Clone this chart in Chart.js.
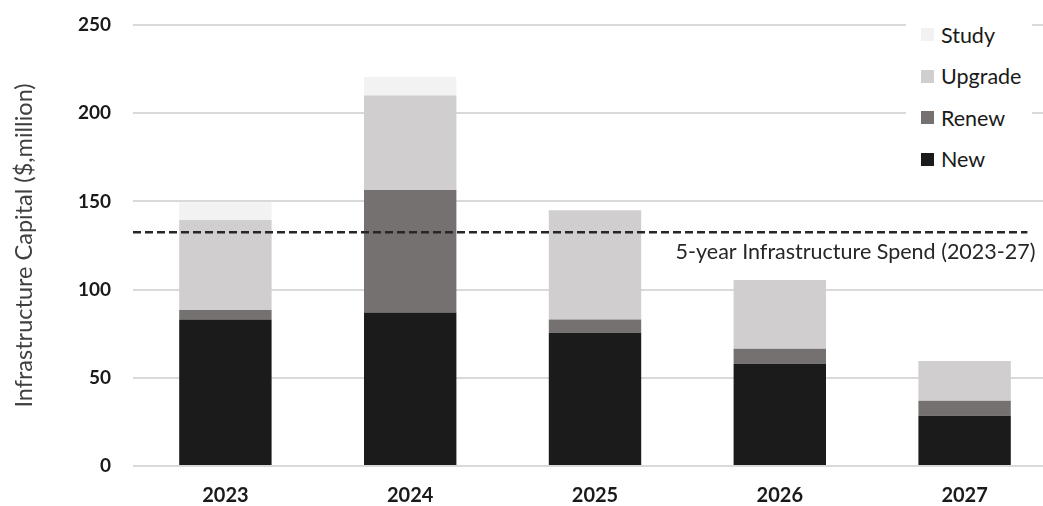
<!DOCTYPE html>
<html>
<head>
<meta charset="utf-8">
<script src="https://cdn.jsdelivr.net/npm/chart.js@4.4.1/dist/chart.umd.min.js"></script>
<style>
  html, body { margin: 0; padding: 0; background: #fff; }
  #wrap { position: relative; width: 1043px; height: 506px; overflow: hidden; }
  #box { position: absolute; left: 0; top: 0; width: 1060px; height: 506px; }
  #legend { position: absolute; left: 906px; top: 14px; width: 126px; height: 166px; background: #fff;
            font-family: Lato, sans-serif; font-size: 21.5px; color: #1a1a1a; }
  #legend div { height: 41.5px; display: flex; align-items: center; }
  #legend span.sw { display: inline-block; width: 13px; height: 13px; margin: 0 7px 0 15px; }
</style>
</head>
<body>
<div id="wrap">
  <div id="box"><canvas id="chart_capital" width="1060" height="506"></canvas></div>
  <div id="legend"></div>
</div>
<script>
const years = ["2023", "2024", "2025", "2026", "2027"];
const newVals = [83, 87, 75.5, 58, 28.5];
const renewVals = [5.5, 69.5, 7.5, 8.5, 8.5];
const upgradeVals = [51, 53.5, 62, 39, 22.5];
const studyVals = [10, 10.5, 0, 0, 0];
const avgSpend = 132.5;
const avgLabel = "5-year Infrastructure Spend (2023-27)";
const yTicks = [0, 50, 100, 150, 200, 250];

const $chart_capital = document.getElementById("chart_capital");

const series = [
    { label: "New", data: newVals, color: "#1b1b1b" },
    { label: "Renew", data: renewVals, color: "#767171" },
    { label: "Upgrade", data: upgradeVals, color: "#d0cece" },
    { label: "Study", data: studyVals, color: "#f2f2f2" },
];

// dashed average line + its caption
const avgLine = {
    id: "avgLine",
    afterDatasetsDraw(chart) {
        const ctx = chart.ctx;
        const y = chart.scales.y.getPixelForValue(avgSpend);
        const x2 = chart.scales.x2;
        const left = x2.getPixelForValue(0);
        const right = x2.getPixelForValue(4.84);
        ctx.save();
        ctx.strokeStyle = "#262626";
        ctx.lineWidth = 2.5;
        ctx.setLineDash([8, 4]);
        ctx.beginPath();
        ctx.moveTo(left, y);
        ctx.lineTo(right, y);
        ctx.stroke();
        ctx.setLineDash([]);
        ctx.fillStyle = "#262626";
        ctx.font = "21.5px Lato";
        ctx.textAlign = "right";
        ctx.textBaseline = "middle";
        ctx.fillText(avgLabel, right + 8, y + 20);
        ctx.restore();
    },
};

new Chart($chart_capital, {
    type: "bar",
    data: {
        labels: years,
        datasets: series.map((s) => ({
            label: s.label,
            data: s.data,
            backgroundColor: s.color,
            borderWidth: 0,
            categoryPercentage: 1,
            barPercentage: 0.5,
        })),
    },
    options: {
        responsive: false,
        animation: false,
        layout: { padding: { top: 25, right: 3, left: 0, bottom: 0 } },
        plugins: {
            legend: { display: false },
            tooltip: { enabled: false },
        },
        scales: {
            x: {
                stacked: true,
                grid: { display: false, drawTicks: false },
                border: { display: false },
                ticks: {
                    color: "#1a1a1a",
                    font: { family: "Lato", size: 20, weight: "bold" },
                    padding: 18,
                },
                afterFit(scale) { scale.height = 40; },
            },
            x2: {
                type: "linear",
                display: false,
                offset: false,
                min: 0,
                max: 5,
            },
            y: {
                stacked: true,
                min: 0,
                max: 250,
                afterBuildTicks(scale) { scale.ticks = yTicks.map((v) => ({ value: v })); },
                grid: { color: "#d9d9d9", lineWidth: 2, drawTicks: false },
                border: { display: false },
                ticks: {
                    color: "#1a1a1a",
                    font: { family: "Lato", size: 19, weight: "bold" },
                    padding: 22,
                },
                title: {
                    display: true,
                    text: "Infrastructure Capital ($,million)",
                    color: "#404040",
                    font: { family: "Lato", size: 23.5 },
                    padding: { top: 10, bottom: 0 },
                },
                afterFit(scale) {
                    scale.width = 133;
                    scale.paddingTop = 12;
                    scale.paddingBottom = 12;
                },
            },
        },
    },
    plugins: [avgLine],
});

// legend, top item first
const $legend = document.getElementById("legend");
series.slice().reverse().forEach((s) => {
    const row = document.createElement("div");
    row.innerHTML = '<span class="sw" style="background:' + s.color + '"></span>' + s.label;
    $legend.appendChild(row);
});
</script>
</body>
</html>
